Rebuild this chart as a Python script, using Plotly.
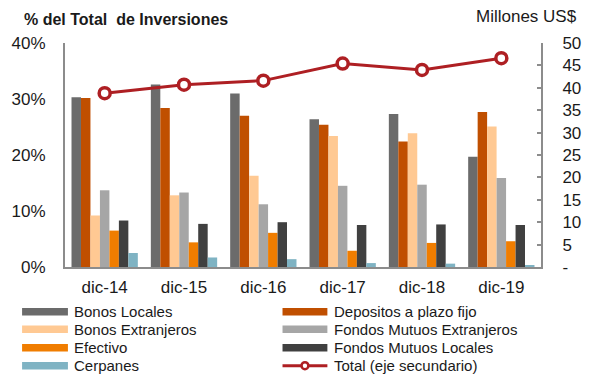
import plotly.graph_objects as go

# Categories and series (share of total investments, as fractions)
categories = ["dic-14", "dic-15", "dic-16", "dic-17", "dic-18", "dic-19"]

bonos_locales = [0.303, 0.326, 0.310, 0.264, 0.273, 0.197]
depositos_plazo = [0.302, 0.284, 0.270, 0.254, 0.224, 0.277]
bonos_extranjeros = [0.092, 0.128, 0.163, 0.234, 0.239, 0.251]
fm_extranjeros = [0.137, 0.133, 0.112, 0.145, 0.147, 0.159]
efectivo = [0.065, 0.044, 0.061, 0.029, 0.043, 0.046]
fm_locales = [0.083, 0.077, 0.080, 0.075, 0.076, 0.075]
cerpanes = [0.025, 0.017, 0.014, 0.007, 0.006, 0.003]

# Total in millions of US$ (secondary axis)
total_musd = [38.8, 40.7, 41.6, 45.4, 44.0, 46.6]

right_tickvals = [0, 5, 10, 15, 20, 25, 30, 35, 40, 45, 50]
right_ticktext = ["-", "5", "10", "15", "20", "25", "30", "35", "40", "45", "50"]

bar_series = [
    ("Bonos Locales", bonos_locales, "#6B6B6B"),
    ("Depositos a plazo fijo", depositos_plazo, "#C04F00"),
    ("Bonos Extranjeros", bonos_extranjeros, "#FFC993"),
    ("Fondos Mutuos Extranjeros", fm_extranjeros, "#A6A6A6"),
    ("Efectivo", efectivo, "#F07D00"),
    ("Fondos Mutuos Locales", fm_locales, "#404040"),
    ("Cerpanes", cerpanes, "#7FB3C3"),
]
line_name = "Total (eje secundario)"
line_color = "#AE1F23"

FONT = "Liberation Sans, Arial, sans-serif"
AXIS_GRAY = "#8C8C8C"

fig = go.Figure()
for name, vals, color in bar_series:
    fig.add_trace(go.Bar(
        x=categories, y=vals, name=name, marker_color=color,
        marker_line_width=0, showlegend=False, yaxis="y",
    ))

fig.add_trace(go.Scatter(
    x=categories, y=total_musd, name=line_name, yaxis="y2",
    mode="lines+markers",
    line=dict(color=line_color, width=3),
    marker=dict(size=11, color="white", line=dict(color=line_color, width=3.5)),
    showlegend=False,
))

W, H = 593, 377
L, R, T, B = 59, 46, 43.3, 109.7
PW, PH = W - L - R, H - T - B


def px_x(x):
    """Pixel x -> paper x (paper spans the plot area)."""
    return (x - L) / PW


def px_y(y):
    """Pixel y (from top) -> paper y."""
    return 1 - (y - T) / PH


fig.update_layout(
    width=W, height=H, autosize=False,
    margin=dict(l=L, r=R, t=T, b=B, pad=0),
    paper_bgcolor="white", plot_bgcolor="white",
    barmode="group", bargap=0.164, bargroupgap=0,
    font=dict(family=FONT, size=17, color="#1A1A1A"),
    xaxis=dict(
        type="category", showgrid=False, zeroline=False,
        showline=True, linecolor=AXIS_GRAY, linewidth=2,
        ticks="", tickfont=dict(size=17), ticklabelstandoff=4,
    ),
    yaxis=dict(
        range=[0, 0.4], dtick=0.1, tickformat=".0%",
        showgrid=False, zeroline=False,
        showline=True, linecolor=AXIS_GRAY, linewidth=2,
        ticks="", ticklabelstandoff=14, tickfont=dict(size=17),
    ),
    yaxis2=dict(
        overlaying="y", side="right", range=[0, 50],
        tickvals=right_tickvals, ticktext=right_ticktext,
        showgrid=False, zeroline=False,
        showline=True, linecolor=AXIS_GRAY, linewidth=2,
        ticks="inside", ticklen=4, tickcolor=AXIS_GRAY, tickwidth=1.5,
        ticklabelstandoff=16, tickfont=dict(size=17),
    ),
)

annotations = [
    dict(text="<b>% del Total  de Inversiones</b>", x=px_x(15), y=px_y(20),
         xref="paper", yref="paper", xanchor="left", yanchor="middle",
         showarrow=False, font=dict(size=16, color="#1A1A1A")),
    dict(text="Millones US$", x=px_x(586), y=px_y(17),
         xref="paper", yref="paper", xanchor="right", yanchor="middle",
         showarrow=False, font=dict(size=17, color="#1A1A1A")),
]
shapes = []

# Two-column legend drawn beneath the category labels
legend_items = [(n, c, "bar") for n, _, c in bar_series] + [(line_name, line_color, "line")]
row_y = [312, 329.5, 348, 366]
col_sw = [(15, 62), (282, 328)]
col_tx = [66, 333]
for i, (name, color, kind) in enumerate(legend_items):
    r, c = divmod(i, 2)
    yc = row_y[r]
    x0, x1 = col_sw[c]
    if kind == "bar":
        shapes.append(dict(type="rect", xref="paper", yref="paper",
                           x0=px_x(x0), x1=px_x(x1),
                           y0=px_y(yc + 3.8), y1=px_y(yc - 3.8),
                           fillcolor=color, line=dict(width=0)))
    else:
        shapes.append(dict(type="line", xref="paper", yref="paper",
                           x0=px_x(x0), x1=px_x(x1), y0=px_y(yc), y1=px_y(yc),
                           line=dict(color=color, width=3)))
        xm = (x0 + x1) / 2
        shapes.append(dict(type="circle", xref="paper", yref="paper",
                           x0=px_x(xm - 3.5), x1=px_x(xm + 3.5),
                           y0=px_y(yc + 3.5), y1=px_y(yc - 3.5),
                           fillcolor="white", line=dict(color=color, width=2.5)))
    annotations.append(dict(text=name, x=px_x(col_tx[c]), y=px_y(yc),
                            xref="paper", yref="paper", xanchor="left", yanchor="middle",
                            showarrow=False, font=dict(size=15, color="#1A1A1A")))

fig.update_layout(annotations=annotations, shapes=shapes)

fig.write_html("out.html")
